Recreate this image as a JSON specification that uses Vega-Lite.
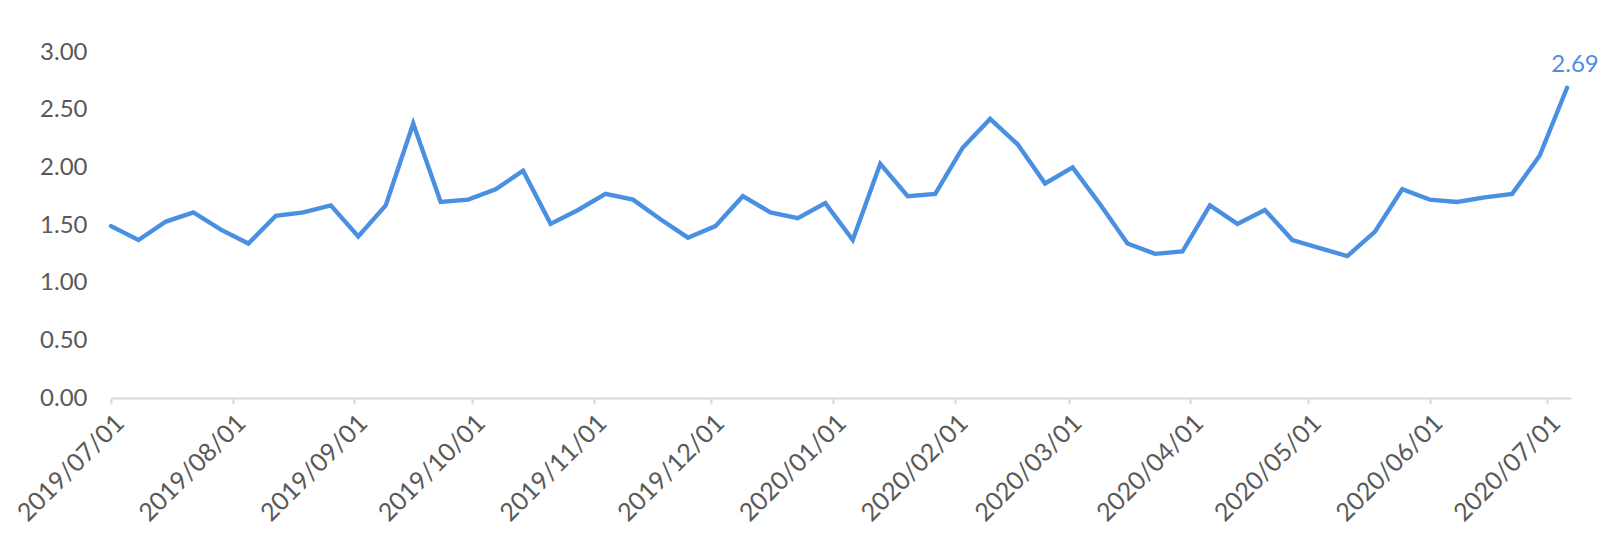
{
  "$schema": "https://vega.github.io/schema/vega-lite/v6.json",
  "width": 1460,
  "height": 346,
  "autosize": {"type": "none"},
  "padding": {"left": 111, "top": 52, "right": 33, "bottom": 162},
  "background": "white",
  "config": {"view": {"stroke": null}, "font": "Lato"},
  "data": {"values": [
    {"date": "2019-07-01", "value": 1.49},
    {"date": "2019-07-08", "value": 1.37},
    {"date": "2019-07-15", "value": 1.53},
    {"date": "2019-07-22", "value": 1.61},
    {"date": "2019-07-29", "value": 1.46},
    {"date": "2019-08-05", "value": 1.34},
    {"date": "2019-08-12", "value": 1.58},
    {"date": "2019-08-19", "value": 1.61},
    {"date": "2019-08-26", "value": 1.67},
    {"date": "2019-09-02", "value": 1.40},
    {"date": "2019-09-09", "value": 1.67},
    {"date": "2019-09-16", "value": 2.38},
    {"date": "2019-09-23", "value": 1.70},
    {"date": "2019-09-30", "value": 1.72},
    {"date": "2019-10-07", "value": 1.81},
    {"date": "2019-10-14", "value": 1.97},
    {"date": "2019-10-21", "value": 1.51},
    {"date": "2019-10-28", "value": 1.63},
    {"date": "2019-11-04", "value": 1.77},
    {"date": "2019-11-11", "value": 1.72},
    {"date": "2019-11-18", "value": 1.55},
    {"date": "2019-11-25", "value": 1.39},
    {"date": "2019-12-02", "value": 1.49},
    {"date": "2019-12-09", "value": 1.75},
    {"date": "2019-12-16", "value": 1.61},
    {"date": "2019-12-23", "value": 1.56},
    {"date": "2019-12-30", "value": 1.69},
    {"date": "2020-01-06", "value": 1.37},
    {"date": "2020-01-13", "value": 2.03},
    {"date": "2020-01-20", "value": 1.75},
    {"date": "2020-01-27", "value": 1.77},
    {"date": "2020-02-03", "value": 2.17},
    {"date": "2020-02-10", "value": 2.42},
    {"date": "2020-02-17", "value": 2.20},
    {"date": "2020-02-24", "value": 1.86},
    {"date": "2020-03-02", "value": 2.00},
    {"date": "2020-03-09", "value": 1.68},
    {"date": "2020-03-16", "value": 1.34},
    {"date": "2020-03-23", "value": 1.25},
    {"date": "2020-03-30", "value": 1.27},
    {"date": "2020-04-06", "value": 1.67},
    {"date": "2020-04-13", "value": 1.51},
    {"date": "2020-04-20", "value": 1.63},
    {"date": "2020-04-27", "value": 1.37},
    {"date": "2020-05-04", "value": 1.30},
    {"date": "2020-05-11", "value": 1.23},
    {"date": "2020-05-18", "value": 1.44},
    {"date": "2020-05-25", "value": 1.81},
    {"date": "2020-06-01", "value": 1.72},
    {"date": "2020-06-08", "value": 1.70},
    {"date": "2020-06-15", "value": 1.74},
    {"date": "2020-06-22", "value": 1.77},
    {"date": "2020-06-29", "value": 2.10},
    {"date": "2020-07-06", "value": 2.69}
  ]},
  "encoding": {
    "x": {
      "field": "date",
      "type": "temporal",
      "scale": {
        "type": "utc",
        "domain": [
          {"year": 2019, "month": 7, "date": 1, "utc": true},
          {"year": 2020, "month": 7, "date": 7, "utc": true}
        ]
      },
      "axis": {
        "title": null,
        "format": "%Y/%m/%d",
        "tickCount": {"interval": "month", "step": 1},
        "labelAngle": -45,
        "labelAlign": "right",
        "labelBaseline": "top",
        "labelFont": "Lato",
        "labelFontSize": 25,
        "labelColor": "#595959",
        "labelPadding": 6,
        "labelOverlap": false,
        "labelFlush": false,
        "domainColor": "#d9d9d9",
        "domainWidth": 2,
        "tickColor": "#d9d9d9",
        "tickWidth": 2,
        "tickSize": 6,
        "grid": false
      }
    },
    "y": {
      "field": "value",
      "type": "quantitative",
      "scale": {"domain": [0, 3], "nice": false, "zero": true},
      "axis": {
        "title": null,
        "values": [0, 0.5, 1, 1.5, 2, 2.5, 3],
        "format": ".2f",
        "labelFont": "Lato",
        "labelFontSize": 24,
        "labelColor": "#595959",
        "labelPadding": 24,
        "ticks": false,
        "domain": false,
        "grid": false
      }
    }
  },
  "layer": [
    {
      "mark": {"type": "line", "color": "#4a90e2", "strokeWidth": 4.4, "strokeJoin": "miter", "strokeCap": "round"}
    },
    {
      "transform": [{"filter": "datum.value == 2.69"}],
      "mark": {"type": "text", "color": "#4a90e2", "font": "Lato", "fontSize": 24, "align": "center", "baseline": "middle", "dx": 8, "dy": -23},
      "encoding": {"text": {"field": "value", "type": "quantitative", "format": ".2f"}}
    }
  ]
}
